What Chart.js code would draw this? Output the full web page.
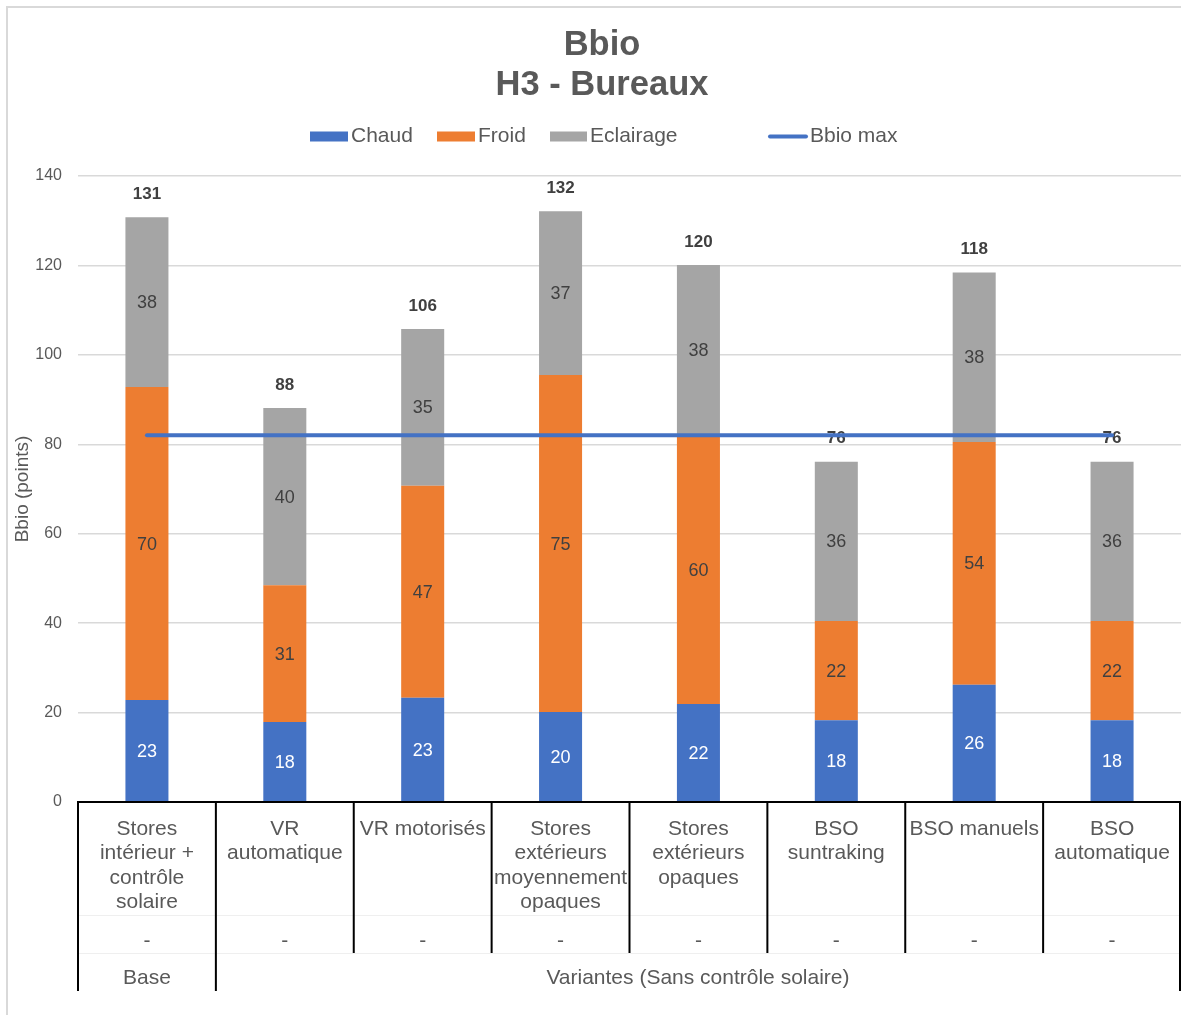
<!DOCTYPE html>
<html>
<head>
<meta charset="utf-8">
<title>Bbio - H3 Bureaux</title>
<script src="https://cdn.jsdelivr.net/npm/chart.js@4.4.0/dist/chart.umd.min.js"></script>
<style>
  html, body { margin: 0; padding: 0; background: #ffffff; overflow: hidden; }
  #wrap { position: relative; width: 1181px; height: 1015px; }
</style>
</head>
<body>
<div id="wrap"><canvas id="bbio" width="1181" height="1015"></canvas></div>
<script>
// Variants (first-level category labels, one line per array entry)
const categories = [
  ['Stores', 'intérieur +', 'contrôle', 'solaire'],
  ['VR', 'automatique'],
  ['VR motorisés'],
  ['Stores', 'extérieurs', 'moyennement', 'opaques'],
  ['Stores', 'extérieurs', 'opaques'],
  ['BSO', 'suntraking'],
  ['BSO manuels'],
  ['BSO', 'automatique']
];
// Second-level labels (one per variant) and grouping row
const subLabels = ['-', '-', '-', '-', '-', '-', '-', '-'];
const groupLabels = ['Base', 'Variantes (Sans contrôle solaire)'];
const groupSizes = [1, 7];

// Bbio components (points)
const chaud     = [22.8, 17.9, 23.3, 20.1, 21.9, 18.3, 26.2, 18.3];
const froid     = [70.0, 30.6, 47.4, 75.4, 60.0, 22.2, 54.3, 22.2];
const eclairage = [38.0, 39.6, 35.1, 36.6, 38.2, 35.6, 37.9, 35.6];
const bbioMax   = [82, 82, 82, 82, 82, 82, 82, 82];

// Value axis
const yMin = 0, yMax = 140, yStep = 20;

const FONT = "'Liberation Sans', Arial, Helvetica, sans-serif";
const TXT = '#595959';
const LBL = '#404040';

const decorations = {
  id: 'decorations',
  beforeDraw(chart) {
    const c = chart.ctx;
    c.save();
    c.fillStyle = '#ffffff';
    c.fillRect(0, 0, chart.width, chart.height);
    // chart frame (top and left edges)
    c.strokeStyle = '#d9d9d9';
    c.lineWidth = 2;
    c.beginPath();
    c.moveTo(7, chart.height);
    c.lineTo(7, 7);
    c.lineTo(chart.width, 7);
    c.stroke();
    c.restore();
  },
  beforeDatasetDraw(chart, args) {
    // value labels go between the bars and the Bbio max line
    if (args.index !== 3) return;
    const c = chart.ctx;
    c.save();
    c.textAlign = 'center';
    c.textBaseline = 'middle';
    c.font = '18px ' + FONT;
    for (let d = 0; d < 3; d++) {
      const meta = chart.getDatasetMeta(d);
      const values = chart.data.datasets[d].data;
      c.fillStyle = d === 0 ? '#ffffff' : LBL;
      meta.data.forEach((el, i) => {
        c.fillText(String(Math.round(values[i])), el.x, (el.y + el.base) / 2 + 1);
      });
    }
    const topMeta = chart.getDatasetMeta(2);
    c.font = 'bold 17px ' + FONT;
    c.fillStyle = LBL;
    topMeta.data.forEach((el, i) => {
      const total = chaud[i] + froid[i] + eclairage[i];
      c.fillText(String(Math.round(total)), el.x, el.y - 23);
    });
    c.restore();
  },
  afterDraw(chart) {
    const c = chart.ctx;
    const xs = chart.scales.x;
    const area = chart.chartArea;
    c.save();

    // title
    c.fillStyle = TXT;
    c.textAlign = 'center';
    c.textBaseline = 'middle';
    c.font = 'bold 34.5px ' + FONT;
    c.fillText('Bbio', 602, 45);
    c.fillText('H3 - Bureaux', 602, 85);

    // legend
    const ly = 136.5;
    c.font = '21px ' + FONT;
    c.textAlign = 'left';
    const boxes = [[310, 348, 0], [437, 475, 1], [550, 587, 2]];
    boxes.forEach(([x0, x1, d]) => {
      const ds = chart.data.datasets[d];
      c.fillStyle = ds.backgroundColor;
      c.fillRect(x0, ly - 5, x1 - x0, 10);
      c.fillStyle = TXT;
      c.fillText(ds.label, x1 + 3, ly);
    });
    const lineDs = chart.data.datasets[3];
    c.strokeStyle = lineDs.borderColor;
    c.lineWidth = 4;
    c.lineCap = 'round';
    c.beginPath();
    c.moveTo(770, ly);
    c.lineTo(806, ly);
    c.stroke();
    c.fillStyle = TXT;
    c.fillText(lineDs.label, 810, ly);

    // category axis: boundaries between categories
    const n = categories.length;
    const centers = categories.map((_, i) => xs.getPixelForValue(i));
    const bounds = [xs.left];
    for (let i = 1; i < n; i++) bounds.push((centers[i - 1] + centers[i]) / 2);
    bounds.push(xs.right - 1);

    const yAxis = area.bottom;
    const rowSub = 941, rowGroup = 978;
    const subEnd = 953, groupEnd = 991;

    // faint row separators
    c.strokeStyle = '#efefef';
    c.lineWidth = 1;
    c.beginPath();
    c.moveTo(xs.left, 915.5); c.lineTo(xs.right, 915.5);
    c.moveTo(xs.left, 953.5); c.lineTo(xs.right, 953.5);
    c.stroke();

    // group edges reach the bottom row
    const groupEdges = new Set([0]);
    let acc = 0;
    groupSizes.forEach(s => { acc += s; groupEdges.add(acc); });

    c.strokeStyle = '#000000';
    c.lineWidth = 2;
    c.lineCap = 'butt';
    c.beginPath();
    bounds.forEach((bx, i) => {
      c.moveTo(bx, yAxis);
      c.lineTo(bx, groupEdges.has(i) ? groupEnd : subEnd);
    });
    c.moveTo(xs.left - 1, yAxis);
    c.lineTo(xs.right, yAxis);
    c.stroke();

    // second and third label rows
    c.fillStyle = TXT;
    c.textAlign = 'center';
    c.font = '21px ' + FONT;
    subLabels.forEach((t, i) => c.fillText(t, centers[i], rowSub));
    let start = 0;
    groupLabels.forEach((t, g) => {
      const end = start + groupSizes[g];
      c.fillText(t, (bounds[start] + bounds[end]) / 2, rowGroup);
      start = end;
    });
    c.restore();
  }
};

new Chart(document.getElementById('bbio'), {
  type: 'bar',
  data: {
    labels: categories,
    datasets: [
      { label: 'Chaud', data: chaud, backgroundColor: '#4472C4', stack: 'bbio' },
      { label: 'Froid', data: froid, backgroundColor: '#ED7D31', stack: 'bbio' },
      { label: 'Eclairage', data: eclairage, backgroundColor: '#A5A5A5', stack: 'bbio' },
      {
        type: 'line', label: 'Bbio max', data: bbioMax, stack: 'max', order: -1,
        borderColor: '#4472C4', backgroundColor: '#4472C4', borderWidth: 4,
        borderCapStyle: 'round', pointRadius: 0, fill: false, tension: 0
      }
    ]
  },
  options: {
    responsive: false,
    animation: false,
    events: [],
    layout: { padding: { top: 176, right: -3, bottom: 0, left: 0 } },
    datasets: { bar: { barPercentage: 0.312, categoryPercentage: 1 } },
    plugins: {
      legend: { display: false },
      title: { display: false },
      tooltip: { enabled: false }
    },
    scales: {
      x: {
        stacked: true,
        grid: { display: false },
        border: { display: false },
        ticks: {
          autoSkip: false, maxRotation: 0, minRotation: 0, padding: 7,
          color: TXT, font: { family: FONT, size: 21, lineHeight: 24.4 / 21 }
        },
        afterFit(scale) { scale.height = 213; }
      },
      y: {
        stacked: true,
        min: yMin, max: yMax,
        ticks: { stepSize: yStep, padding: 16, color: TXT, font: { family: FONT, size: 16 } },
        grid: { color: '#d9d9d9', lineWidth: 1.5, drawTicks: false },
        border: { display: false },
        title: {
          display: true, text: 'Bbio (points)', color: TXT,
          font: { family: FONT, size: 19 }, padding: { top: 11, bottom: 0 }
        },
        afterFit(scale) { scale.width = 78; }
      }
    }
  },
  plugins: [decorations]
});
</script>
</body>
</html>
